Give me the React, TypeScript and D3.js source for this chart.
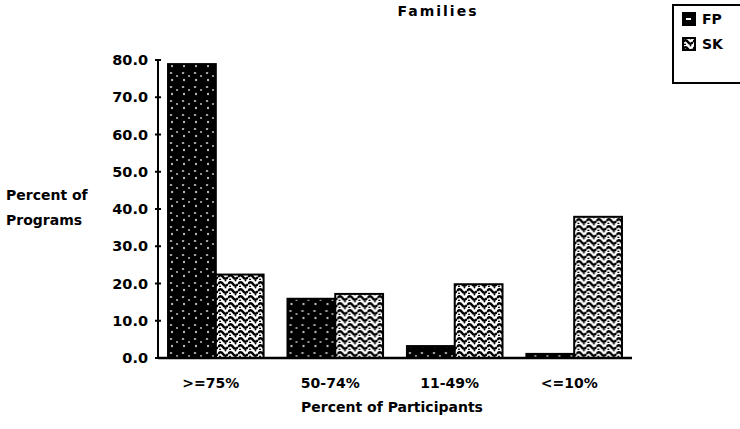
import React from 'react';
import { scaleBand, scaleLinear } from 'd3';

// Percent of programs, by share of participants
const categories = ['>=75%', '50-74%', '11-49%', '<=10%'];
const fpValues = [78.9, 15.9, 3.2, 1.1];
const skValues = [22.4, 17.2, 19.8, 37.9];
const seriesNames = ['FP', 'SK'];
const yTicks = [0, 10, 20, 30, 40, 50, 60, 70, 80];

const W = 740;
const H = 429;
const FONT = '"DejaVu Sans", Verdana, sans-serif';

const App: React.FC = () => {
  const x0 = scaleBand<string>()
    .domain(categories)
    .range([158, 632])
    .paddingInner(0.2)
    .paddingOuter(0.084);

  const x1 = scaleBand<string>()
    .domain(seriesNames)
    .range([0, x0.bandwidth()])
    .padding(0);

  const y = scaleLinear().domain([0, 80]).range([358, 60]);

  const series = [
    { name: 'FP', values: fpValues, fill: 'url(#fpPat)' },
    { name: 'SK', values: skValues, fill: 'url(#skPat)' },
  ];

  const axisX = x0.range()[0];
  const axisEnd = x0.range()[1];

  return (
    <svg
      width={W}
      height={H}
      style={{ position: 'absolute', left: 0, top: 0, background: '#fff' }}
    >
      <defs>
        <pattern id="fpPat" width="12" height="14" patternUnits="userSpaceOnUse">
          <rect width="12" height="14" fill="#000" />
          <ellipse cx="3" cy="3" rx="1.3" ry="0.7" fill="#fff" />
          <ellipse cx="9" cy="6" rx="1.1" ry="0.8" fill="#fff" />
          <ellipse cx="4" cy="10" rx="0.8" ry="1.2" fill="#fff" />
        </pattern>
        <pattern id="skPat" width="10" height="7" patternUnits="userSpaceOnUse">
          <rect width="10" height="7" fill="#fff" />
          <path
            d="M0,4 Q2.5,0.5 5,4 T10,4"
            fill="none"
            stroke="#000"
            strokeWidth="2.4"
          />
          <circle cx="2" cy="6.5" r="1" fill="#000" />
          <circle cx="7.5" cy="0.6" r="0.9" fill="#000" />
        </pattern>
      </defs>

      {/* title, sits right at the top edge */}
      <text
        x={438}
        y={16}
        textAnchor="middle"
        fontFamily={FONT}
        fontWeight="bold"
        fontSize={14}
        letterSpacing={2}
      >
        Families
      </text>

      {/* bars */}
      {categories.map((c, i) => (
        <g key={c} transform={`translate(${x0(c)},0)`}>
          {series.map((s) => (
            <rect
              key={s.name}
              x={x1(s.name)}
              y={y(s.values[i])}
              width={x1.bandwidth()}
              height={y(0) - y(s.values[i])}
              fill={s.fill}
              stroke="#000"
              strokeWidth={2}
            />
          ))}
        </g>
      ))}

      {/* y axis */}
      <line x1={axisX} x2={axisX} y1={y(80)} y2={y(0)} stroke="#000" strokeWidth={2} />
      {yTicks.map((t) => (
        <g key={t}>
          <line
            x1={axisX - 3}
            x2={axisX + 3}
            y1={y(t)}
            y2={y(t)}
            stroke="#000"
            strokeWidth={2}
          />
          <text
            x={148}
            y={y(t)}
            dy="0.36em"
            textAnchor="end"
            fontFamily={FONT}
            fontWeight="bold"
            fontSize={14.5}
          >
            {t.toFixed(1)}
          </text>
        </g>
      ))}

      {/* x axis */}
      <line x1={axisX} x2={axisEnd} y1={y(0)} y2={y(0)} stroke="#000" strokeWidth={2.5} />
      {categories.map((c) => (
        <text
          key={c}
          x={(x0(c) ?? 0) + x0.bandwidth() / 2 - 5}
          y={383}
          dy="0.36em"
          textAnchor="middle"
          fontFamily={FONT}
          fontWeight="bold"
          fontSize={14}
        >
          {c}
        </text>
      ))}

      {/* axis titles */}
      <text
        x={392}
        y={407}
        dy="0.36em"
        textAnchor="middle"
        fontFamily={FONT}
        fontWeight="bold"
        fontSize={14}
      >
        Percent of Participants
      </text>
      <text fontFamily={FONT} fontWeight="bold" fontSize={14}>
        <tspan x={6} y={200}>
          Percent of
        </tspan>
        <tspan x={6} y={225}>
          Programs
        </tspan>
      </text>

      {/* legend */}
      <rect x={673} y={5} width={80} height={78} fill="#fff" stroke="#000" strokeWidth={2} />
      {series.map((s, i) => (
        <g key={s.name} transform={`translate(683,${13 + i * 25})`}>
          <rect
            width={12}
            height={12}
            fill={i === 0 ? '#000' : 'url(#skPat)'}
            stroke="#000"
            strokeWidth={2}
          />
          {i === 0 && <rect x={3} y={5} width={5} height={2} fill="#fff" />}
          <text
            x={19}
            y={6}
            dy="0.36em"
            fontFamily={FONT}
            fontWeight="bold"
            fontSize={14}
          >
            {s.name}
          </text>
        </g>
      ))}
    </svg>
  );
};

export default App;
